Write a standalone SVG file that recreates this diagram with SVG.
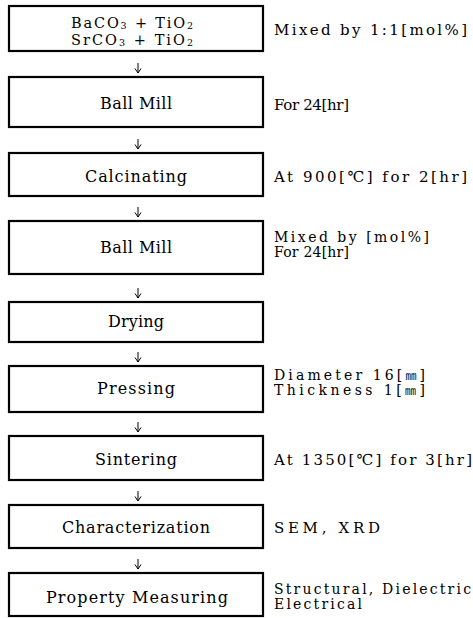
<svg xmlns="http://www.w3.org/2000/svg" width="473" height="618" viewBox="0 0 473 618" font-family="'DejaVu Serif', 'Liberation Serif', serif">
<style>
.box{fill:#fff;stroke:#000;stroke-width:2.2}
text{font-family:'DejaVu Serif','Liberation Serif',serif;fill:#000}
.t{font-size:16px;text-anchor:middle}
.h{font-size:14.5px;text-anchor:middle}
.n{font-size:15px}
.m{font-size:14px}
.cjk{font-family:'Noto Sans CJK KR','Noto Sans CJK JP',sans-serif;font-size:11px}
.sub{font-size:9.5px}
.c{stroke:#000;stroke-width:1;fill:none}
</style>
<defs>
<marker id="ah" viewBox="0 0 8 8" refX="7.5" refY="4" markerWidth="8" markerHeight="8" markerUnits="userSpaceOnUse" orient="auto">
<path d="M3,1 L7.5,4 L3,7" fill="none" stroke="#000" stroke-width="1"/>
</marker>
</defs>
<rect width="473" height="618" fill="#fff"/>
<g id="connectors">
<line class="c" x1="138" y1="63" x2="138" y2="73" marker-end="url(#ah)"/>
<line class="c" x1="138" y1="139" x2="138" y2="149" marker-end="url(#ah)"/>
<line class="c" x1="138" y1="207" x2="138" y2="217" marker-end="url(#ah)"/>
<line class="c" x1="138" y1="288" x2="138" y2="298" marker-end="url(#ah)"/>
<line class="c" x1="138" y1="352" x2="138" y2="362" marker-end="url(#ah)"/>
<line class="c" x1="138" y1="422" x2="138" y2="432" marker-end="url(#ah)"/>
<line class="c" x1="138" y1="491" x2="138" y2="501" marker-end="url(#ah)"/>
<line class="c" x1="138" y1="559" x2="138" y2="569" marker-end="url(#ah)"/>
</g>
<g id="n1">
<rect class="box" x="9" y="6" width="254" height="45"/>
<text class="h" x="132" y="28" textLength="122" lengthAdjust="spacing">BaCO<tspan class="sub" dy="1">3</tspan><tspan dy="-1"> + TiO</tspan><tspan class="sub" dy="1">2</tspan></text>
<text class="h" x="132" y="45" textLength="122" lengthAdjust="spacing">SrCO<tspan class="sub" dy="1">3</tspan><tspan dy="-1"> + TiO</tspan><tspan class="sub" dy="1">2</tspan></text>
</g>
<g id="n1note"><text class="n" x="274" y="35" textLength="193" lengthAdjust="spacing">Mixed by 1:1[mol%]</text></g>
<g id="n2">
<rect class="box" x="9" y="77" width="254" height="50"/>
<text class="t" x="136" y="109" textLength="72" lengthAdjust="spacing">Ball Mill</text>
</g>
<g id="n2note"><text class="n" x="274" y="110" textLength="75" lengthAdjust="spacing">For 24[hr]</text></g>
<g id="n3">
<rect class="box" x="9" y="153" width="254" height="43"/>
<text class="t" x="136" y="182" textLength="102" lengthAdjust="spacing">Calcinating</text>
</g>
<g id="n3note"><text class="n" x="274" y="182" textLength="193" lengthAdjust="spacing">At 900[℃] for 2[hr]</text></g>
<g id="n4">
<rect class="box" x="9" y="221" width="254" height="53"/>
<text class="t" x="136" y="253" textLength="72" lengthAdjust="spacing">Ball Mill</text>
</g>
<g id="n4note">
<text class="m" x="274" y="242" textLength="155" lengthAdjust="spacing">Mixed by [mol%]</text>
<text class="m" x="274" y="257" textLength="75" lengthAdjust="spacing">For 24[hr]</text>
</g>
<g id="n5">
<rect class="box" x="9" y="302" width="254" height="40"/>
<text class="t" x="136" y="327" textLength="56" lengthAdjust="spacing">Drying</text>
</g>
<g id="n6">
<rect class="box" x="9" y="366" width="254" height="46"/>
<text class="t" x="136" y="394" textLength="78" lengthAdjust="spacing">Pressing</text>
</g>
<g id="n6note">
<text class="m" x="274" y="380" textLength="151" lengthAdjust="spacing">Diameter 16[<tspan class="cjk">㎜</tspan>]</text>
<text class="m" x="274" y="395" textLength="151" lengthAdjust="spacing">Thickness 1[<tspan class="cjk">㎜</tspan>]</text>
</g>
<g id="n7">
<rect class="box" x="9" y="436" width="254" height="44"/>
<text class="t" x="136" y="465" textLength="82" lengthAdjust="spacing">Sintering</text>
</g>
<g id="n7note"><text class="n" x="274" y="465" textLength="198" lengthAdjust="spacing">At 1350[℃] for 3[hr]</text></g>
<g id="n8">
<rect class="box" x="9" y="505" width="254" height="43"/>
<text class="t" x="136" y="533" textLength="148" lengthAdjust="spacing">Characterization</text>
</g>
<g id="n8note"><text class="n" x="274" y="533" textLength="106" lengthAdjust="spacing">SEM, XRD</text></g>
<g id="n9">
<rect class="box" x="9" y="573" width="254" height="43"/>
<text class="t" x="137" y="603" textLength="182" lengthAdjust="spacing">Property Measuring</text>
</g>
<g id="n9note">
<text class="m" x="274" y="594" textLength="197" lengthAdjust="spacing">Structural, Dielectric</text>
<text class="m" x="274" y="609" textLength="88" lengthAdjust="spacing">Electrical</text>
</g>
</svg>
